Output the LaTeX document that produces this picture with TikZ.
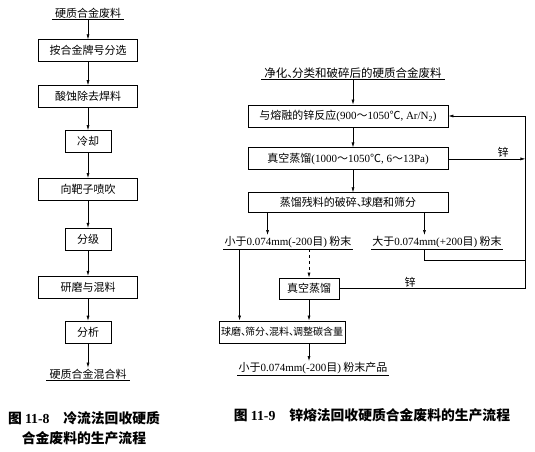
\documentclass[tikz,border=0pt]{standalone}
\usepackage{fontspec}
\setmainfont{Liberation Serif}
\newfontfamily\zh{Noto Sans CJK SC}
\usepackage{tikz}
\usetikzlibrary{arrows.meta, positioning}
\newcommand{\en}[1]{{\rmfamily #1}}
\newcommand{\dun}{\makebox[.4em][l]{、}}

\begin{document}
\begin{tikzpicture}[
  x=1pt, y=-1pt,
  box/.style={draw, line width=0.9pt, minimum height=22pt, inner sep=2pt,
              font=\zh\fontsize{11}{13}\selectfont},
  wide/.style={box, minimum width=99pt},
  narrow/.style={box, minimum width=46pt},
  lbl/.style={inner sep=1pt, font=\zh\fontsize{11}{13}\selectfont},
  figcap/.style={align=center, font=\zh\bfseries\fontsize{13.8}{20}\selectfont},
  arr/.style={-{Latex[length=5pt,width=3pt]}, line width=0.6pt},
  uline/.style={line width=0.6pt}
]
\useasboundingbox (0,0) rectangle (535,452);

% left: cold stream process
\node[lbl] (scrap) at (88,13) {硬质合金废料};
\node[wide, below=20pt of scrap] (sort) {按合金牌号分选};
\node[wide, below=23pt of sort] (etch) {酸蚀除去焊料};
\node[narrow, below=22pt of etch] (cool) {冷却};
\node[wide, below=25pt of cool] (blow) {向靶子喷吹};
\node[narrow, below=27pt of blow] (grade) {分级};
\node[wide, below=25pt of grade] (mill) {研磨与混料};
\node[narrow, below=22pt of mill] (assay) {分析};
\node[lbl, below=24pt of assay] (mix) {硬质合金混合料};

\draw[uline] ([xshift=-2pt]scrap.south west) -- ([xshift=2pt]scrap.south east);
\draw[uline] ([xshift=-2pt]mix.south west) -- ([xshift=2pt]mix.south east);

\draw[arr] (scrap) -- (sort);
\draw[arr] (sort) -- (etch);
\draw[arr] (etch) -- (cool);
\draw[arr] (cool) -- (blow);
\draw[arr] (blow) -- (grade);
\draw[arr] (grade) -- (mill);
\draw[arr] (mill) -- (assay);
\draw[arr] (assay) -- (mix);

% right: zinc melt process
\node[lbl, font=\zh\fontsize{11.5}{13}\selectfont] (clean) at (353,73) {净化\dun 分类和破碎后的硬质合金废料};
\node[box, minimum width=200pt] (zinc) at (348,116)
  {与熔融的锌反应\en{(900}～\en{1050}℃\en{, Ar/N\textsubscript{2})}};
\node[box, minimum width=200pt, below=20pt of zinc] (vac)
  {真空蒸馏\en{(1000}～\en{1050}℃\en{, 6}～\en{13Pa)}};
\node[box, minimum width=200pt, minimum height=20pt, below=22pt of vac] (crush)
  {蒸馏残料的破碎\dun 球磨和筛分};
\node[lbl] (fine) at (288,242) {小于\en{0.074mm(-200}目\en{)} 粉末};
\node[lbl] (coarse) at (437,242) {大于\en{0.074mm(+200}目\en{)} 粉末};
\node[box, minimum width=60pt, minimum height=21pt] (revac) at (309,288.5) {真空蒸馏};
\node[box, minimum width=111pt, font=\zh\fontsize{10}{12}\selectfont] (blend) at (282,332)
  {球磨\dun 筛分\dun 混料\dun 调整碳含量};
\node[lbl] (product) at (313,368) {小于\en{0.074mm(-200}目\en{)} 粉末产品};

\draw[uline] (fine.south west) -- (fine.south east);
\draw[uline] (coarse.south west) -- (coarse.south east);
\draw[uline] ([xshift=-2pt]clean.south west) -- ([xshift=2pt]clean.south east);
\draw[uline] (product.south west) -- (product.south east);

\coordinate (cl) at ([xshift=20pt]crush.south west);
\coordinate (cr) at ([xshift=-24pt]crush.south east);
\coordinate (fl) at ([xshift=21pt]blend.north west);
\coordinate (loop) at ([xshift=77pt]zinc.east);

\draw[arr] (clean.south) -- (clean.south |- zinc.north);
\draw[arr] (zinc.south -| clean.south) -- (vac.north -| clean.south);
\draw[arr] (vac.south -| clean.south) -- (crush.north -| clean.south);
\draw[arr] (cl) -- (cl |- fine.north);
\draw[arr] (cr) -- (cr |- coarse.north);
\draw[arr] (fl |- fine.south) -- (fl);
\draw[arr, dashed] (revac.north |- fine.south) -- (revac.north);
\draw[arr] (revac.south) -- (revac.south |- blend.north);
\draw[arr] (revac.south |- blend.south) -- (revac.south |- product.north);
\draw[arr] (vac.east) -- node[lbl, above, pos=0.71] {锌} (vac.east -| loop);
\draw[line width=0.6pt] (revac.east) -- node[lbl, above, pos=0.38] {锌} (revac.east -| loop) -- (loop);
\draw[arr] (cr |- coarse.south) -- ++(0,11) -| (loop) -- (zinc.east);

% captions
\node[figcap] (cap8) at (84,428) {图 \en{11-8}\hspace{1em}冷流法回收硬质\\合金废料的生产流程};
\node[figcap] (cap9) at (372,415) {图 \en{11-9}\hspace{1em}锌熔法回收硬质合金废料的生产流程};

\end{tikzpicture}
\end{document}
